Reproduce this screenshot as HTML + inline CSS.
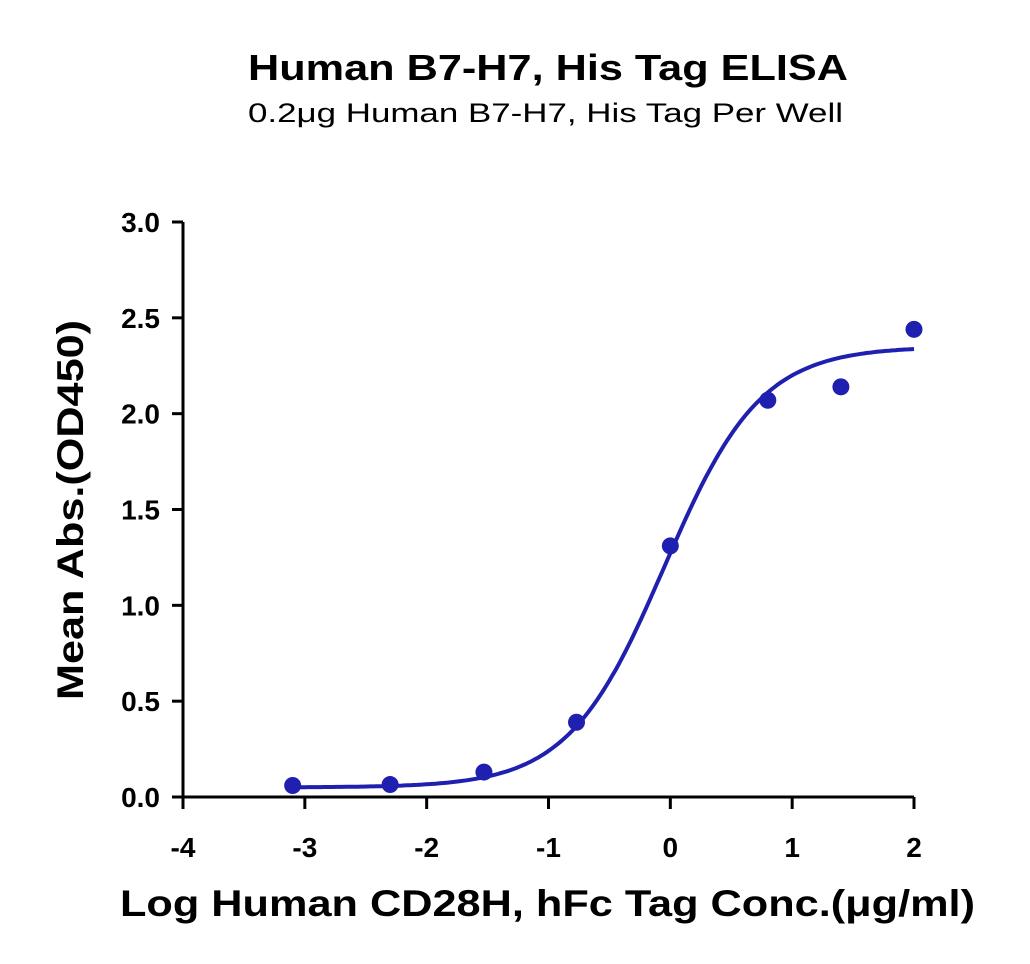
<!DOCTYPE html>
<html><head><meta charset="utf-8"><style>
body{margin:0;background:#fff;}
svg{display:block;font-family:"Liberation Sans",Arial,sans-serif;}
</style></head><body>
<svg id="chart" width="1030" height="964" viewBox="0 0 1030 964">
<text x="248" y="80" textLength="600" lengthAdjust="spacingAndGlyphs" font-size="36" font-weight="bold">Human B7-H7, His Tag ELISA</text>
<text x="248" y="122" textLength="595" lengthAdjust="spacingAndGlyphs" font-size="27">0.2μg Human B7-H7, His Tag Per Well</text>
<text transform="translate(83,700) rotate(-90)" textLength="380" lengthAdjust="spacingAndGlyphs" font-size="37" font-weight="bold">Mean Abs.(OD450)</text>
<text x="120" y="916" textLength="855" lengthAdjust="spacingAndGlyphs" font-size="37" font-weight="bold">Log Human CD28H, hFc Tag Conc.(μg/ml)</text>
<g id="axes"></g>
<g id="marks"></g>
</svg>
<script>
const xTicks=[-4,-3,-2,-1,0,1,2];
const yTicks=[0.0,0.5,1.0,1.5,2.0,2.5,3.0];
const yTickLabels=["0.0","0.5","1.0","1.5","2.0","2.5","3.0"];
const logConc=[-3.1,-2.3,-1.53,-0.77,0.0,0.8,1.4,2.0];
const absValues=[0.06,0.065,0.13,0.39,1.31,2.07,2.14,2.44];
const fitParams=[0.05,2.35,-0.05,1.1]; // bottom, top, logEC50, hill
const NS="http://www.w3.org/2000/svg";
const X=v=>183+(v+4)*(914-183)/6;
const Y=v=>797-v*(797-222)/3;
function mk(tag,attrs,parent){const e=document.createElementNS(NS,tag);for(const k in attrs)e.setAttribute(k,attrs[k]);parent.appendChild(e);return e;}
const axes=document.getElementById('axes'),marks=document.getElementById('marks');
let a=mk('line',{x1:183,y1:Y(3),x2:183,y2:797+1.5,stroke:'#000','stroke-width':3},axes);


a=mk('line',{x1:183-1.5,y1:797,x2:914,y2:797,stroke:'#000','stroke-width':3},axes);


yTicks.forEach((v,i)=>{
 const t=mk('line',{x1:172,y1:Y(v),x2:183,y2:Y(v),stroke:'#000','stroke-width':3},axes);
 
 
 const l=mk('text',{x:160,y:Y(v)+10,'text-anchor':'end','font-size':28,'font-weight':'bold'},axes);
 l.textContent=yTickLabels[i];
 
 
});
xTicks.forEach(v=>{
 const t=mk('line',{x1:X(v),y1:797,x2:X(v),y2:809,stroke:'#000','stroke-width':3},axes);
 
 
 const l=mk('text',{x:X(v),y:857,'text-anchor':'middle','font-size':28,'font-weight':'bold'},axes);
 l.textContent=v;
 
 
});
const [b,tp,ec,h]=fitParams;
let d='';
for(let i=0;i<=200;i++){const x=logConc[0]+(logConc[logConc.length-1]-logConc[0])*i/200;
 const y=b+(tp-b)/(1+Math.pow(10,h*(ec-x)));d+=(i?'L':'M')+X(x).toFixed(1)+','+Y(y).toFixed(1);}
const c=mk('path',{d:d,fill:'none',stroke:'#1f1fb0','stroke-width':4},marks);


logConc.forEach((x,i)=>{
 const p=mk('circle',{cx:X(x),cy:Y(absValues[i]),r:8.5,fill:'#1f1fb0'},marks);
 
 
});
</script>
</body></html>
